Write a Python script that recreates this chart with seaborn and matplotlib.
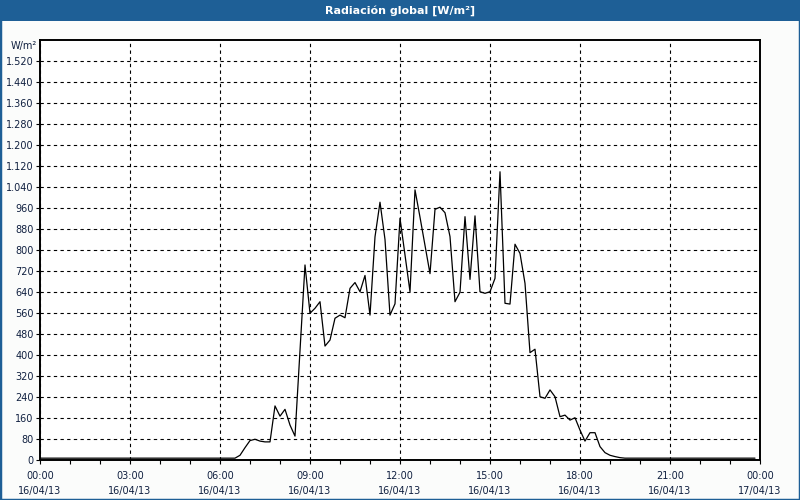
import matplotlib
matplotlib.use("Agg")
import matplotlib.pyplot as plt
import matplotlib.dates as mdates
from matplotlib.ticker import FuncFormatter
from matplotlib.patches import Rectangle
import seaborn as sns
import pandas as pd

# ---- data (10-minute readings, 16/04/13) ----
start_time = "2013-04-16 00:00"
radiation = [
    7, 7, 7, 7, 7, 7, 7, 7, 7, 7, 7, 7,            # 00:00-01:50
    7, 7, 7, 7, 7, 7, 7, 7, 7, 7, 7, 7,            # 02:00-03:50
    7, 7, 7, 7, 7, 7, 7, 7, 7, 7, 7, 7,            # 04:00-05:50
    7, 7, 7, 7, 18, 47, 74, 79, 72, 69, 69, 206,   # 06:00-07:50
    167, 193, 133, 91, 420, 743, 559, 578, 603, 434, 457, 540,   # 08:00-09:50
    552, 542, 654, 676, 641, 703, 552, 850, 982, 840, 552, 595,  # 10:00-11:50
    921, 780, 641, 1029, 925, 818, 710, 955, 963, 942, 851, 603, # 12:00-13:50
    639, 927, 688, 930, 641, 635, 641, 692, 1098, 597, 594, 822, # 14:00-15:50
    787, 673, 409, 422, 241, 235, 267, 241, 165, 171, 152, 161,  # 16:00-17:50
    114, 72, 104, 104, 51, 28, 18, 13, 9, 7, 7, 7,  # 18:00-19:50
    7, 7, 7, 7, 7, 7, 7, 7, 7, 7, 7, 7,            # 20:00-21:50
    7, 7, 7, 7, 7, 7, 7, 7, 7, 7, 7, 7,            # 22:00-23:50
]
title = "Radiación global [W/m²]"
unit_label = "W/m²"
y_ticks = list(range(0, 1521, 80))

times = pd.date_range(start_time, periods=len(radiation), freq="10min")
df = pd.DataFrame({"time": times, "value": radiation})

# ---- style ----
sns.set_theme(style="white")
plt.rcParams["font.family"] = ["DejaVu Sans"]
BLUE = "#1e5f96"
TXT = "#102040"

fig = plt.figure(figsize=(8, 5), dpi=100, facecolor="#fbfcfb")
ax = fig.add_axes([40 / 800, 40 / 500, 720 / 800, 420 / 500])
ax.set_facecolor("white")

sns.lineplot(data=df, x="time", y="value", ax=ax, color="black", lw=0.9)

ax.set_xlim(pd.Timestamp("2013-04-16 00:00"), pd.Timestamp("2013-04-17 00:00"))
ax.set_ylim(0, 1600)
ax.set_yticks(y_ticks)
ax.yaxis.set_major_formatter(FuncFormatter(lambda v, p: f"{int(v):,}".replace(",", ".")))
ax.xaxis.set_major_locator(mdates.HourLocator(interval=3))
ax.xaxis.set_minor_locator(mdates.HourLocator(interval=1))
ax.xaxis.set_major_formatter(mdates.DateFormatter("%H:%M\n%d/%m/%y"))
ax.set_xlabel("")
ax.set_ylabel("")

ax.grid(True, which="major", axis="both", color="black", linestyle=(0, (3, 3)), lw=0.8)
ax.tick_params(axis="both", which="both", direction="out", length=3, width=0.8,
               color="black", labelsize=7, labelcolor=TXT, bottom=True, left=True)
ax.tick_params(axis="y", pad=1.5)
ax.tick_params(axis="x", pad=5)
for s in ax.spines.values():
    s.set_color("black")
    s.set_linewidth(1.4)
for lab in ax.get_xticklabels():
    lab.set_linespacing(1.6)

# title bar and frame
fig.patches.append(Rectangle((0, 1 - 21 / 500), 1, 21 / 500, transform=fig.transFigure,
                             facecolor=BLUE, edgecolor="none", zorder=0))
fig.patches.append(Rectangle((0, 0), 1, 1, transform=fig.transFigure, fill=False,
                             edgecolor=BLUE, lw=2.5, zorder=0))
fig.text(0.5, 1 - 10.5 / 500, title, ha="center", va="center", color="white",
         fontsize=8, fontweight="bold")
fig.text(37 / 800, 1 - 46 / 500, unit_label, ha="right", va="center", color=TXT, fontsize=7)

fig.savefig("out.png", dpi=100, facecolor=fig.get_facecolor())
